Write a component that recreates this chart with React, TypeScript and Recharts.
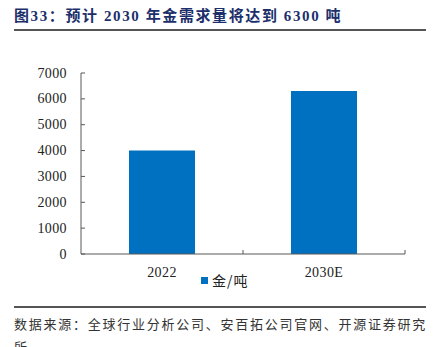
import { BarChart, Bar, XAxis, YAxis, Legend } from 'recharts';

const categories = ['2022', '2030E'];
const goldDemand = [4000, 6300];
const yTicks = [0, 1000, 2000, 3000, 4000, 5000, 6000, 7000];

const SERIES_NAME = '金/吨';
const BAR_COLOR = '#0070C0';
const AXIS_COLOR = '#595959';
const SERIF = '"Liberation Serif", "Times New Roman", "Noto Sans CJK SC", serif';

const data = categories.map((c, i) => ({ name: c, value: goldDemand[i] }));

const YTick = (props: any) => {
  const { x, y, payload } = props;
  const axisX = x + 14;
  return (
    <g>
      <line x1={axisX} x2={axisX + 4} y1={y} y2={y} stroke={AXIS_COLOR} strokeWidth={1} />
      <text x={x} y={y} dy={4.5} textAnchor="end" fill="#222" fontSize={14} fontFamily={SERIF} letterSpacing={0.4}>
        {payload.value}
      </text>
    </g>
  );
};

const XTick = (props: any) => {
  const { x, y, payload, width, visibleTicksCount } = props;
  const band = width && visibleTicksCount ? width / visibleTicksCount : 0;
  return (
    <g>
      {band > 0 && (
        <line x1={x + band / 2} x2={x + band / 2} y1={y} y2={y - 4} stroke={AXIS_COLOR} strokeWidth={1} />
      )}
      <text x={x} y={y} dy={23} textAnchor="middle" fill="#222" fontSize={14} fontFamily={SERIF} letterSpacing={0.4}>
        {payload.value}
      </text>
    </g>
  );
};

const LegendContent = (props: any) => {
  const items = props.payload || [];
  return (
    <div style={{ display: 'flex', alignItems: 'center' }}>
      {items.map((it: any) => (
        <div key={it.value} style={{ display: 'flex', alignItems: 'center' }}>
          <span style={{ width: 7, height: 7, background: it.color, display: 'inline-block', marginRight: 4 }} />
          <span style={{ fontSize: 14, fontFamily: '"Noto Sans CJK SC", sans-serif', color: '#222', letterSpacing: 1 }}>
            {it.value}
          </span>
        </div>
      ))}
    </div>
  );
};

export default function App() {
  return (
    <div style={{ position: 'fixed', left: 0, top: 0, width: 445, height: 347, background: '#fff', overflow: 'hidden' }}>
      <div
        style={{
          position: 'absolute',
          left: 14,
          top: 4,
          fontSize: 15,
          fontWeight: 'bold',
          color: '#1C2F6B',
          fontFamily: '"Liberation Serif", "Noto Sans CJK SC", serif',
          letterSpacing: 1.6,
          whiteSpace: 'nowrap',
        }}
      >
        图33：预计 2030 年金需求量将达到 6300 吨
      </div>
      <div style={{ position: 'absolute', left: 14, top: 29, width: 412, height: 1.5, background: '#555' }} />

      <div style={{ position: 'absolute', left: 0, top: 0 }}>
        <BarChart width={445} height={347} data={data} margin={{ top: 73, right: 40, bottom: 63, left: 21 }} barSize={66}>
          <YAxis
            domain={[0, 7000]}
            ticks={yTicks}
            width={60}
            tickSize={0}
            tickMargin={14}
            tick={<YTick />}
            axisLine={{ stroke: AXIS_COLOR }}
            tickLine={false}
            interval={0}
          />
          <XAxis
            dataKey="name"
            height={30}
            tickSize={0}
            tickMargin={0}
            tick={<XTick />}
            axisLine={{ stroke: AXIS_COLOR }}
            tickLine={false}
            interval={0}
          />
          <Legend
            layout="horizontal"
            align="center"
            verticalAlign="middle"
            content={<LegendContent />}
            wrapperStyle={{ position: 'absolute', left: 201, top: 270, width: 'auto' }}
          />
          <Bar dataKey="value" name={SERIES_NAME} fill={BAR_COLOR} isAnimationActive={false} />
        </BarChart>
      </div>

      <div style={{ position: 'absolute', left: 14, top: 306, width: 412, height: 1.5, background: '#555' }} />
      <div
        style={{
          position: 'absolute',
          left: 14,
          top: 312,
          width: 416,
          fontSize: 13,
          lineHeight: '23px',
          letterSpacing: 1.75,
          color: '#333',
          fontFamily: '"Noto Sans CJK SC", sans-serif',
        }}
      >
        数据来源：全球行业分析公司、安百拓公司官网、开源证券研究所
      </div>
    </div>
  );
}
